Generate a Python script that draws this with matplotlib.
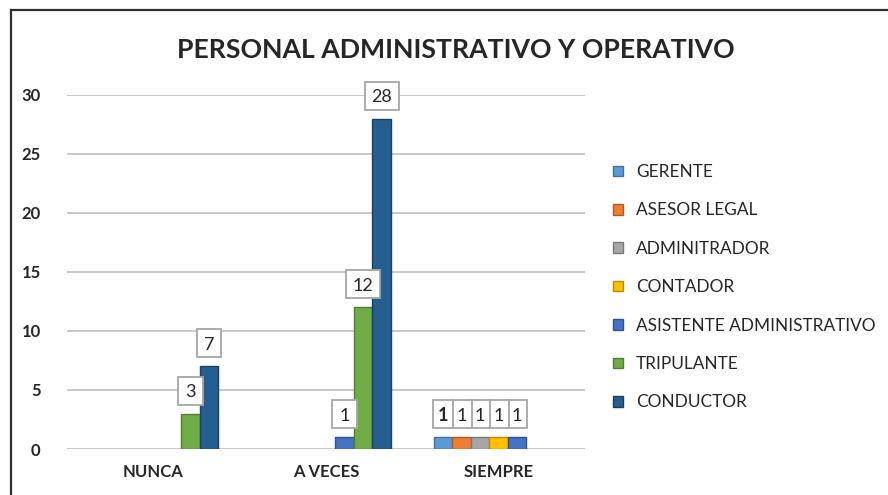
import matplotlib
matplotlib.use("Agg")
import matplotlib.pyplot as plt
import numpy as np
from matplotlib.lines import Line2D
from matplotlib.patches import Rectangle
from matplotlib.transforms import IdentityTransform

plt.rcParams['font.family'] = ['Lato', 'DejaVu Sans']

title = "PERSONAL ADMINISTRATIVO Y OPERATIVO"
categories = ["NUNCA", "A VECES", "SIEMPRE"]
series_names = ["GERENTE", "ASESOR LEGAL", "ADMINITRADOR", "CONTADOR",
                "ASISTENTE ADMINISTRATIVO", "TRIPULANTE", "CONDUCTOR"]
gerente = [np.nan, np.nan, 1]
asesor_legal = [np.nan, np.nan, 1]
adminitrador = [np.nan, np.nan, 1]
contador = [np.nan, np.nan, 1]
asistente = [np.nan, 1, 1]
tripulante = [3, 12, np.nan]
conductor = [7, 28, np.nan]
series_values = [gerente, asesor_legal, adminitrador, contador, asistente, tripulante, conductor]
yticks = [0, 5, 10, 15, 20, 25, 30]

colors = ["#5B9BD5", "#ED7D31", "#A5A5A5", "#FFC000", "#4472C4", "#70AD47", "#255E91"]
edges = ["#41719C", "#AE5A21", "#787878", "#BC8C00", "#2F528F", "#507E32", "#1A3F63"]

W, H = 888, 495
DPI = 100
fig = plt.figure(figsize=(W/DPI, H/DPI), dpi=DPI)
ax = fig.add_axes([67/W, 1-449/H, (585-67)/W, (449-95)/H])

x = np.arange(len(categories))
n = len(series_names)
group_w = 0.75
bw = group_w / n

ax.set_ylim(0, 30)
ax.set_xlim(-0.5, len(categories) - 0.5)

labels = []  # (category idx, series idx, x, value)
for i, (name, vals) in enumerate(zip(series_names, series_values)):
    off = (i - (n-1)/2) * bw
    v = np.array(vals, dtype=float)
    mask = ~np.isnan(v)
    ax.bar((x + off)[mask], v[mask], width=bw, color=colors[i],
           edgecolor=edges[i], linewidth=1.0, zorder=3, label=name)
    for c in np.where(mask)[0]:
        labels.append((c, i, x[c] + off, v[c]))

# data label boxes (pixel-sized, as in the spreadsheet chart)
ident = IdentityTransform()
value_of = {(c, i): val for c, i, _, val in labels}
spacing_px = ax.transData.transform((bw, 0))[0] - ax.transData.transform((0, 0))[0]
px_per_unit = ax.transData.transform((0, 1))[1] - ax.transData.transform((0, 0))[1]
h = 28
for c, i, xi, val in labels:
    px, py = ax.transData.transform((xi, val))
    txt = f"{int(val)}"
    w = 15 + 9.5 * len(txt)
    crowded = any((c, j) in value_of and abs(value_of[(c, j)] - val) * px_per_unit < h
                  for j in (i - 1, i + 1))
    if crowded:
        w = min(w, spacing_px + 1.2)
    y0 = py + 9
    z = 6 - i * 0.1
    ax.add_patch(Rectangle((px - w/2, y0), w, h, transform=ident, fc="white",
                           ec="#A6A6A6", lw=1.3, zorder=z, clip_on=False))
    ax.text(px, y0 + h/2, txt, transform=ident, ha="center", va="center_baseline",
            fontsize=13, color="#262626", fontweight="bold" if i == 0 else "normal",
            zorder=z + 0.05, clip_on=False)

ax.set_yticks(yticks)
ax.set_yticklabels([str(t) for t in yticks], fontsize=12, fontweight="bold", color="#262626")
ax.set_xticks(x)
ax.set_xticklabels(categories, fontsize=12, fontweight="bold", color="#262626")
ax.tick_params(axis="y", length=0, pad=19)
ax.tick_params(axis="x", length=0, pad=11)
ax.grid(axis="y", color="#C8C8C8", linewidth=1.4, zorder=0)
for s in ax.spines.values():
    s.set_visible(False)

fig.text(456/W, 1-50/H, title, ha="center", va="center", fontsize=19.2,
         fontweight="bold", color="#262626")

leg = fig.legend(loc="upper left", bbox_to_anchor=(613/W, 1-164/H), frameon=False,
                 fontsize=12.4, handlelength=0.58, handleheight=0.58, handletextpad=0.75,
                 labelspacing=1.30, borderpad=0, borderaxespad=0)
for t in leg.get_texts():
    t.set_color("#262626")

# outer chart border (partially visible)
fig.add_artist(Line2D([11/W, 11/W], [0, 1-10/H], color="#303030", lw=1.6, transform=fig.transFigure))
fig.add_artist(Line2D([11/W, 1], [1-10/H, 1-10/H], color="#303030", lw=1.6, transform=fig.transFigure))

fig.savefig("out.png", dpi=DPI)
